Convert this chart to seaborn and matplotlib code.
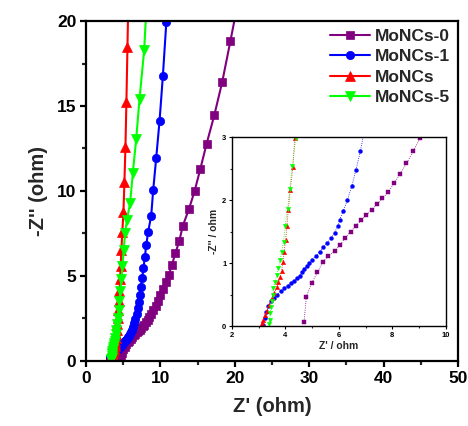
import numpy as np
import pandas as pd
import matplotlib
matplotlib.use("Agg")
import matplotlib.pyplot as plt
from matplotlib.ticker import MultipleLocator
import seaborn as sns

# ---------------- data ----------------
labels = ["MoNCs-0", "MoNCs-1", "MoNCs", "MoNCs-5"]

x_monc0 = [4.70, 4.78, 4.98, 5.20, 5.40, 5.61, 5.84, 6.05, 6.24, 6.44, 6.64, 6.84, 7.03, 7.23,
           7.44, 7.63, 7.85, 8.07, 8.30, 8.53, 8.79, 9.05, 9.35, 9.65, 9.95, 10.3, 10.7, 11.1,
           11.55, 12.0, 12.53, 13.0, 13.84, 14.6, 15.36, 16.2, 17.25, 18.3, 19.4, 20.6]
y_monc0 = [0.07, 0.46, 0.68, 0.85, 1.02, 1.11, 1.19, 1.29, 1.40, 1.50, 1.59, 1.68, 1.76, 1.84,
           1.94, 2.03, 2.12, 2.27, 2.42, 2.58, 2.78, 2.99, 3.25, 3.55, 3.9, 4.25, 4.65, 5.04,
           5.65, 6.33, 7.04, 7.94, 8.94, 10.0, 11.29, 12.76, 14.47, 16.4, 18.8, 21.5]

x_monc1 = [3.17, 3.22, 3.28, 3.36, 3.46, 3.58, 3.70, 3.82, 3.95, 4.08, 4.20, 4.32, 4.43, 4.53,
           4.61, 4.70, 4.80, 4.89, 4.99, 5.14, 5.28, 5.41, 5.56, 5.71, 5.84, 5.95, 6.03, 6.17,
           6.32, 6.49, 6.64, 6.81, 6.95, 7.08, 7.22, 7.38, 7.55, 7.72, 7.9, 8.1, 8.35, 8.76,
           9.03, 9.43, 9.88, 10.33, 10.8, 11.3]
y_monc1 = [0.02, 0.12, 0.22, 0.31, 0.39, 0.45, 0.50, 0.55, 0.60, 0.64, 0.68, 0.72, 0.76, 0.80,
           0.85, 0.90, 0.95, 1.00, 1.05, 1.11, 1.18, 1.25, 1.32, 1.39, 1.48, 1.58, 1.69, 1.83,
           2.00, 2.23, 2.48, 2.78, 3.1, 3.47, 3.88, 4.35, 4.87, 5.45, 6.1, 6.82, 7.6, 8.53,
           10.06, 11.92, 14.1, 16.76, 19.96, 23.5]

x_moncs = [3.11, 3.17, 3.24, 3.30, 3.40, 3.49, 3.59, 3.68, 3.74, 3.80, 3.86, 3.90, 3.95, 4.01,
           4.05, 4.11, 4.18, 4.28, 4.35, 4.42, 4.5, 4.58, 4.66, 4.75, 4.88, 5.03, 5.16, 5.3,
           5.43, 5.57, 5.72]
y_moncs = [0.04, 0.10, 0.17, 0.24, 0.33, 0.44, 0.52, 0.62, 0.70, 0.78, 0.88, 1.01, 1.18, 1.37,
           1.58, 1.84, 2.16, 2.53, 2.99, 3.5, 4.1, 4.8, 5.6, 6.5, 7.6, 8.75, 10.5, 12.6,
           15.25, 18.45, 22.0]

x_monc5 = [3.40, 3.41, 3.43, 3.45, 3.49, 3.53, 3.55, 3.61, 3.68, 3.74, 3.80, 3.86, 3.93, 3.99,
           4.08, 4.16, 4.26, 4.39, 4.5, 4.62, 4.75, 4.9, 5.05, 5.25, 5.5, 5.93, 6.29, 6.74,
           7.19, 7.82, 8.2]
y_monc5 = [0.03, 0.10, 0.20, 0.30, 0.40, 0.49, 0.60, 0.70, 0.81, 0.92, 1.04, 1.18, 1.34, 1.58,
           1.85, 2.17, 2.54, 2.99, 3.5, 4.1, 4.8, 5.6, 6.5, 7.5, 8.3, 9.31, 11.04, 13.04,
           15.4, 18.3, 21.5]

xs = [x_monc0, x_monc1, x_moncs, x_monc5]
ys = [y_monc0, y_monc1, y_moncs, y_monc5]

colors = ["#800080", "#0000FF", "#FF0000", "#00FF00"]
markers = ["s", "o", "^", "v"]
msize_main = [5.5, 6.0, 6.5, 6.5]
msize_inset = [2.6, 2.8, 3.2, 3.2]

# ---------------- style ----------------
sns.set_theme(style="ticks")
plt.rcParams["font.family"] = ["Liberation Sans", "DejaVu Sans"]
plt.rcParams["font.weight"] = "bold"
plt.rcParams["axes.labelweight"] = "bold"

fig = plt.figure(figsize=(4.68, 4.26), dpi=100)
fig.patch.set_facecolor("white")
ax = fig.add_axes([0.1838, 0.1526, 0.7948, 0.7981])

for x, y, c, m, ms, lab in zip(xs, ys, colors, markers, msize_main, labels):
    sns.lineplot(x=x, y=y, sort=False, estimator=None, ax=ax, color=c, marker=m,
                 markersize=ms, markeredgecolor=c, markeredgewidth=0.5,
                 linewidth=1.5, label=lab)

ax.set_xlim(0, 50)
ax.set_ylim(0, 20)
ax.xaxis.set_major_locator(MultipleLocator(10))
ax.xaxis.set_minor_locator(MultipleLocator(5))
ax.yaxis.set_major_locator(MultipleLocator(5))
ax.yaxis.set_minor_locator(MultipleLocator(2.5))
for s in ax.spines.values():
    s.set_linewidth(1.6)
    s.set_color("black")
ax.tick_params(which="major", direction="out", length=4, width=1.6, labelsize=12.5,
               pad=3, colors="black")
ax.tick_params(which="minor", direction="out", length=3, width=1.6)
for lbl in ax.get_xticklabels() + ax.get_yticklabels():
    lbl.set_fontweight("bold")
ax.set_xlabel("Z' (ohm)", fontsize=14.5, fontweight="bold", labelpad=8)
ax.set_ylabel("-Z'' (ohm)", fontsize=14.5, fontweight="bold", labelpad=6)
ax.grid(False)

leg = ax.legend(loc="upper right", bbox_to_anchor=(1.0, 1.0), frameon=False,
                prop={"weight": "bold", "size": 12.5}, handlelength=2.3,
                handletextpad=0.3, labelspacing=0.3, borderaxespad=0.05)

# ---------------- inset ----------------
axin = fig.add_axes([0.4957, 0.2347, 0.4567, 0.4437])
axin.set_facecolor("white")
for x, y, c, m, ms in zip(xs, ys, colors, markers, msize_inset):
    sns.lineplot(x=x, y=y, sort=False, estimator=None, ax=axin, color=c, marker=m,
                 markersize=ms, markeredgecolor=c, markeredgewidth=0.3,
                 linewidth=0.6, linestyle=":", legend=False)
axin.set_xlim(2, 10)
axin.set_ylim(0, 3)
axin.xaxis.set_major_locator(MultipleLocator(2))
axin.xaxis.set_minor_locator(MultipleLocator(1))
axin.yaxis.set_major_locator(MultipleLocator(1))
axin.yaxis.set_minor_locator(MultipleLocator(0.5))
for s in axin.spines.values():
    s.set_linewidth(1.0)
    s.set_color("black")
axin.tick_params(which="major", direction="out", length=2.5, width=0.8, labelsize=5.5,
                 pad=1.5, colors="black")
axin.tick_params(which="minor", direction="out", length=1.5, width=0.8)
for lbl in axin.get_xticklabels() + axin.get_yticklabels():
    lbl.set_fontweight("bold")
axin.set_xlabel("Z' / ohm", fontsize=7.5, fontweight="bold", labelpad=2)
axin.set_ylabel("-Z'' / ohm", fontsize=7.5, fontweight="bold", labelpad=2)
axin.grid(False)

fig.savefig("out.png", dpi=100, facecolor="white")
